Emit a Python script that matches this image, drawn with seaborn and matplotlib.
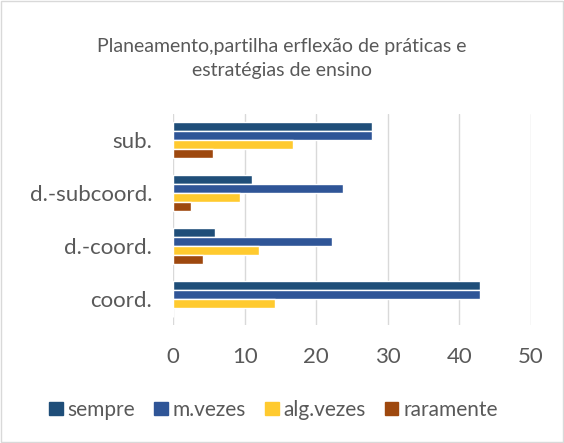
import pandas as pd
import matplotlib.pyplot as plt
import seaborn as sns
from matplotlib.patches import Rectangle

# values
categories = ["sub.", "d.-subcoord.", "d.-coord.", "coord."]
series = ["sempre", "m.vezes", "alg.vezes", "raramente"]
sempre = [27.8, 11.1, 5.9, 42.9]
m_vezes = [27.8, 23.8, 22.2, 42.9]
alg_vezes = [16.7, 9.3, 12.0, 14.3]
raramente = [5.6, 2.5, 4.2, 0.0]

colors = ["#1F4E79", "#2F5597", "#FFCA2F", "#9E480E"]

rows = []
for name, vals in zip(series, [sempre, m_vezes, alg_vezes, raramente]):
    for cat, v in zip(categories, vals):
        rows.append({"cat": cat, "serie": name, "valor": v})
df = pd.DataFrame(rows)

sns.set_style("white")
plt.rcParams["font.family"] = ["Lato", "DejaVu Sans"]

fig = plt.figure(figsize=(5.64, 4.43), dpi=100)
ax = fig.add_axes([0.3067, 0.2664, 0.6348, 0.4763])

sns.barplot(data=df, y="cat", x="valor", hue="serie", order=categories,
            hue_order=series, palette=colors, width=0.68, orient="h",
            saturation=1, ax=ax, legend=False)

ax.set_xlim(0, 50)
ax.set_xticks(range(0, 51, 10))
ax.set_ylim(3.5, -0.5)
ax.grid(axis="x", color="#D9D9D9", linewidth=1)
ax.set_axisbelow(True)
for s in ax.spines.values():
    s.set_visible(False)
ax.set_xlabel("")
ax.set_ylabel("")
ax.tick_params(axis="x", labelsize=16, colors="#595959", length=0, pad=16)
ax.tick_params(axis="y", labelsize=16, colors="#595959", length=0, pad=15)

fig.text(0.5, 0.868, "Planeamento,partilha erflexão de práticas e\nestratégias de ensino",
         ha="center", va="center", fontsize=14, color="#595959", linespacing=1.5)

handles = [Rectangle((0, 0), 1, 1, color=c) for c in colors]
fig.legend(handles, series, loc="center", bbox_to_anchor=(0.485, 0.075), ncol=4,
           frameon=False, fontsize=15, handlelength=0.65, handleheight=0.65,
           handletextpad=0.25, columnspacing=0.9, labelcolor="#595959")

fig.patches.append(Rectangle((0.002, 0.002), 0.996, 0.996, transform=fig.transFigure,
                             fill=False, edgecolor="#D9D9D9", linewidth=1))

plt.savefig("out.png", dpi=100)
